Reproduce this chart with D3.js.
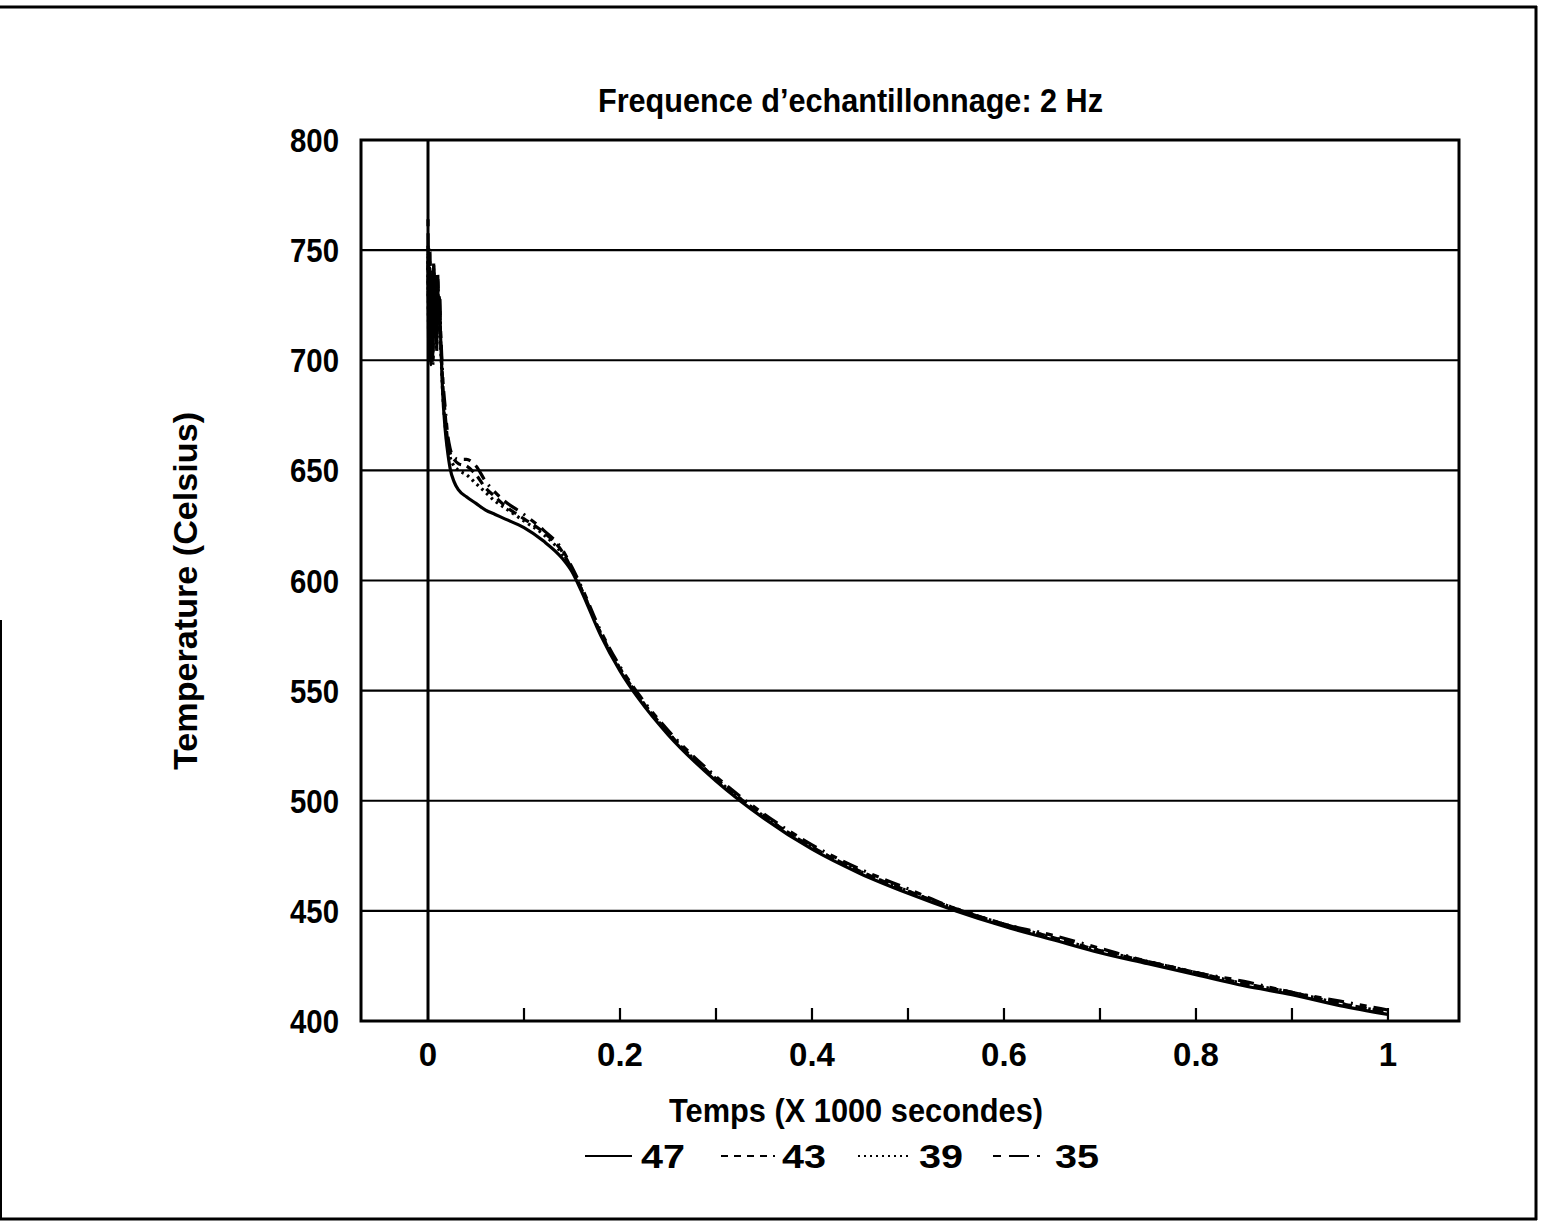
<!DOCTYPE html>
<html>
<head>
<meta charset="utf-8">
<script src="https://cdn.jsdelivr.net/npm/d3@7"></script>
<style>
  html, body { margin: 0; padding: 0; background: #fff; }
  svg { display: block; }
  text { font-family: "Liberation Sans", Arial, Helvetica, sans-serif; font-weight: bold; fill: #000; }
</style>
</head>
<body>
<svg id="chart" width="1543" height="1225"></svg>
<script>
// ---- Data ----
const times = [0, 0.001, 0.002, 0.003, 0.004, 0.005, 0.006, 0.007, 0.008, 0.009, 0.010, 0.011, 0.012, 0.013, 0.014, 0.015,
  0.018, 0.020, 0.023, 0.027, 0.032, 0.04, 0.05, 0.06, 0.07, 0.08, 0.1, 0.12, 0.14, 0.15, 0.16, 0.18, 0.2, 0.22, 0.25,
  0.3, 0.35, 0.4, 0.45, 0.5, 0.55, 0.6, 0.65, 0.7, 0.75, 0.8, 0.85, 0.9, 0.95, 1.0];

const s47 = [748, 700, 742, 698, 735, 705, 740, 712, 730, 708, 736, 718, 728, 712, 700, 688,
  668, 660, 651, 645, 641, 638, 635, 632, 630, 628, 624, 618, 610, 604, 595, 575, 559, 546, 530,
  509, 492, 478, 467, 458, 450, 443, 437, 431, 426, 421, 416, 412, 407, 403];

const s43 = [752, 710, 745, 702, 738, 700, 742, 715, 735, 705, 738, 722, 725, 710, 702, 692,
  675, 665, 658, 655, 653, 652, 648, 642, 638, 634, 628, 622, 613, 605, 596, 576, 560, 547, 531,
  510, 493, 479, 468, 459, 451, 444, 438, 432, 427, 422, 417, 413, 408, 404];

const s39 = [745, 705, 738, 700, 732, 698, 736, 710, 728, 704, 733, 716, 722, 708, 698, 688,
  670, 662, 656, 652, 650, 648, 644, 640, 636, 633, 627, 621, 612, 605, 596, 576, 560, 547, 531,
  510, 493, 479, 468, 459, 451, 444, 438, 432, 427, 422, 417, 413, 408, 404];

const s35 = [764, 712, 750, 705, 740, 700, 745, 718, 738, 710, 740, 725, 730, 715, 705, 695,
  678, 668, 660, 656, 655, 655, 652, 645, 640, 636, 630, 623, 614, 606, 597, 577, 561, 548, 532,
  511, 494, 480, 469, 460, 451, 444, 439, 433, 427, 422, 418, 413, 409, 405];

const seriesNames = ["47", "43", "39", "35"];
const seriesValues = [s47, s43, s39, s35];
const yTicks = [400, 450, 500, 550, 600, 650, 700, 750, 800];
const xTicks = [0, 0.1, 0.2, 0.3, 0.4, 0.5, 0.6, 0.7, 0.8, 0.9, 1.0];
const xLabelTicks = [0, 0.2, 0.4, 0.6, 0.8, 1];
const titleText = "Frequence d\u2019echantillonnage: 2 Hz";
const xTitle = "Temps (X 1000 secondes)";
const yTitle = "Temperature (Celsius)";

// ---- Layout ----
const svg = d3.select("#chart");
const L = 361, R = 1459, T = 140, B = 1021;
const x = d3.scaleLinear().domain([-0.0698, 1.074]).range([L, R]);
const y = d3.scaleLinear().domain([400, 800]).range([B, T]);

const dashes = { "47": null, "43": "9,6", "39": "2.5,4", "35": "7,7,16,7,2,7" };

// outer border
svg.append("line").attr("x1", 0).attr("x2", 1537).attr("y1", 7).attr("y2", 7).attr("stroke", "#000").attr("stroke-width", 3);
svg.append("line").attr("x1", 1536).attr("x2", 1536).attr("y1", 6).attr("y2", 1220).attr("stroke", "#000").attr("stroke-width", 3);
svg.append("line").attr("x1", 0).attr("x2", 1537).attr("y1", 1219).attr("y2", 1219).attr("stroke", "#000").attr("stroke-width", 3);
svg.append("line").attr("x1", 1).attr("x2", 1).attr("y1", 620).attr("y2", 1220).attr("stroke", "#000").attr("stroke-width", 2);

// grid lines
svg.append("g").selectAll("line").data(yTicks.slice(1, -1)).join("line")
  .attr("x1", L).attr("x2", R).attr("y1", d => y(d)).attr("y2", d => y(d))
  .attr("stroke", "#000").attr("stroke-width", 2.2);

// vertical zero line
svg.append("line").attr("x1", x(0)).attr("x2", x(0)).attr("y1", T).attr("y2", B)
  .attr("stroke", "#000").attr("stroke-width", 3);

// x ticks (inward)
svg.append("g").selectAll("line").data(xTicks.slice(1)).join("line")
  .attr("x1", d => x(d)).attr("x2", d => x(d)).attr("y1", B).attr("y2", B - 13)
  .attr("stroke", "#000").attr("stroke-width", 2.2);

// frame
svg.append("rect").attr("x", L).attr("y", T).attr("width", R - L).attr("height", B - T)
  .attr("fill", "none").attr("stroke", "#000").attr("stroke-width", 3);

// curves
const line = d3.line().x((d, i) => x(times[i])).y(d => y(d)).curve(d3.curveMonotoneX);
const gC = svg.append("g");
seriesNames.forEach((name, k) => {
  gC.append("path").datum(seriesValues[k])
    .attr("d", line)
    .attr("fill", "none").attr("stroke", "#000").attr("stroke-width", 3.2)
    .attr("stroke-linejoin", "round")
    .attr("stroke-dasharray", dashes[name]);
});

// y labels
svg.append("g").selectAll("text").data(yTicks).join("text")
  .attr("x", 339).attr("y", d => y(d) + 12)
  .attr("text-anchor", "end").attr("font-size", 33)
  .attr("textLength", 49).attr("lengthAdjust", "spacingAndGlyphs")
  .text(d => d);

// x labels
svg.append("g").selectAll("text").data(xLabelTicks).join("text")
  .attr("x", d => x(d)).attr("y", 1066)
  .attr("text-anchor", "middle").attr("font-size", 33)
  .text(d => d === 0 || d === 1 ? String(d) : d.toFixed(1));

// title
svg.append("text").attr("x", 598).attr("y", 112).attr("font-size", 34)
  .attr("textLength", 505).attr("lengthAdjust", "spacingAndGlyphs").text(titleText);

// x title
svg.append("text").attr("x", 669).attr("y", 1122).attr("font-size", 34)
  .attr("textLength", 374).attr("lengthAdjust", "spacingAndGlyphs").text(xTitle);

// y title
svg.append("text").attr("transform", "translate(197,770) rotate(-90)")
  .attr("font-size", 34)
  .attr("textLength", 358).attr("lengthAdjust", "spacingAndGlyphs").text(yTitle);

// legend
const legendItems = [
  { name: "47", x1: 585, x2: 632, tx: 641 },
  { name: "43", x1: 721, x2: 775, tx: 782 },
  { name: "39", x1: 858, x2: 912, tx: 919 },
  { name: "35", x1: 993, x2: 1047, tx: 1055 }
];
const gL = svg.append("g");
legendItems.forEach(it => {
  gL.append("line").attr("x1", it.x1).attr("x2", it.x2).attr("y1", 1156).attr("y2", 1156)
    .attr("stroke", "#000").attr("stroke-width", 2)
    .attr("stroke-dasharray", it.name === "43" ? "7,6" : it.name === "39" ? "2,4" : it.name === "35" ? "8,8,20,8,3,8" : null);
  gL.append("text").attr("x", it.tx).attr("y", 1168).attr("font-size", 33)
    .attr("textLength", 44).attr("lengthAdjust", "spacingAndGlyphs").text(it.name);
});
</script>
</body>
</html>
